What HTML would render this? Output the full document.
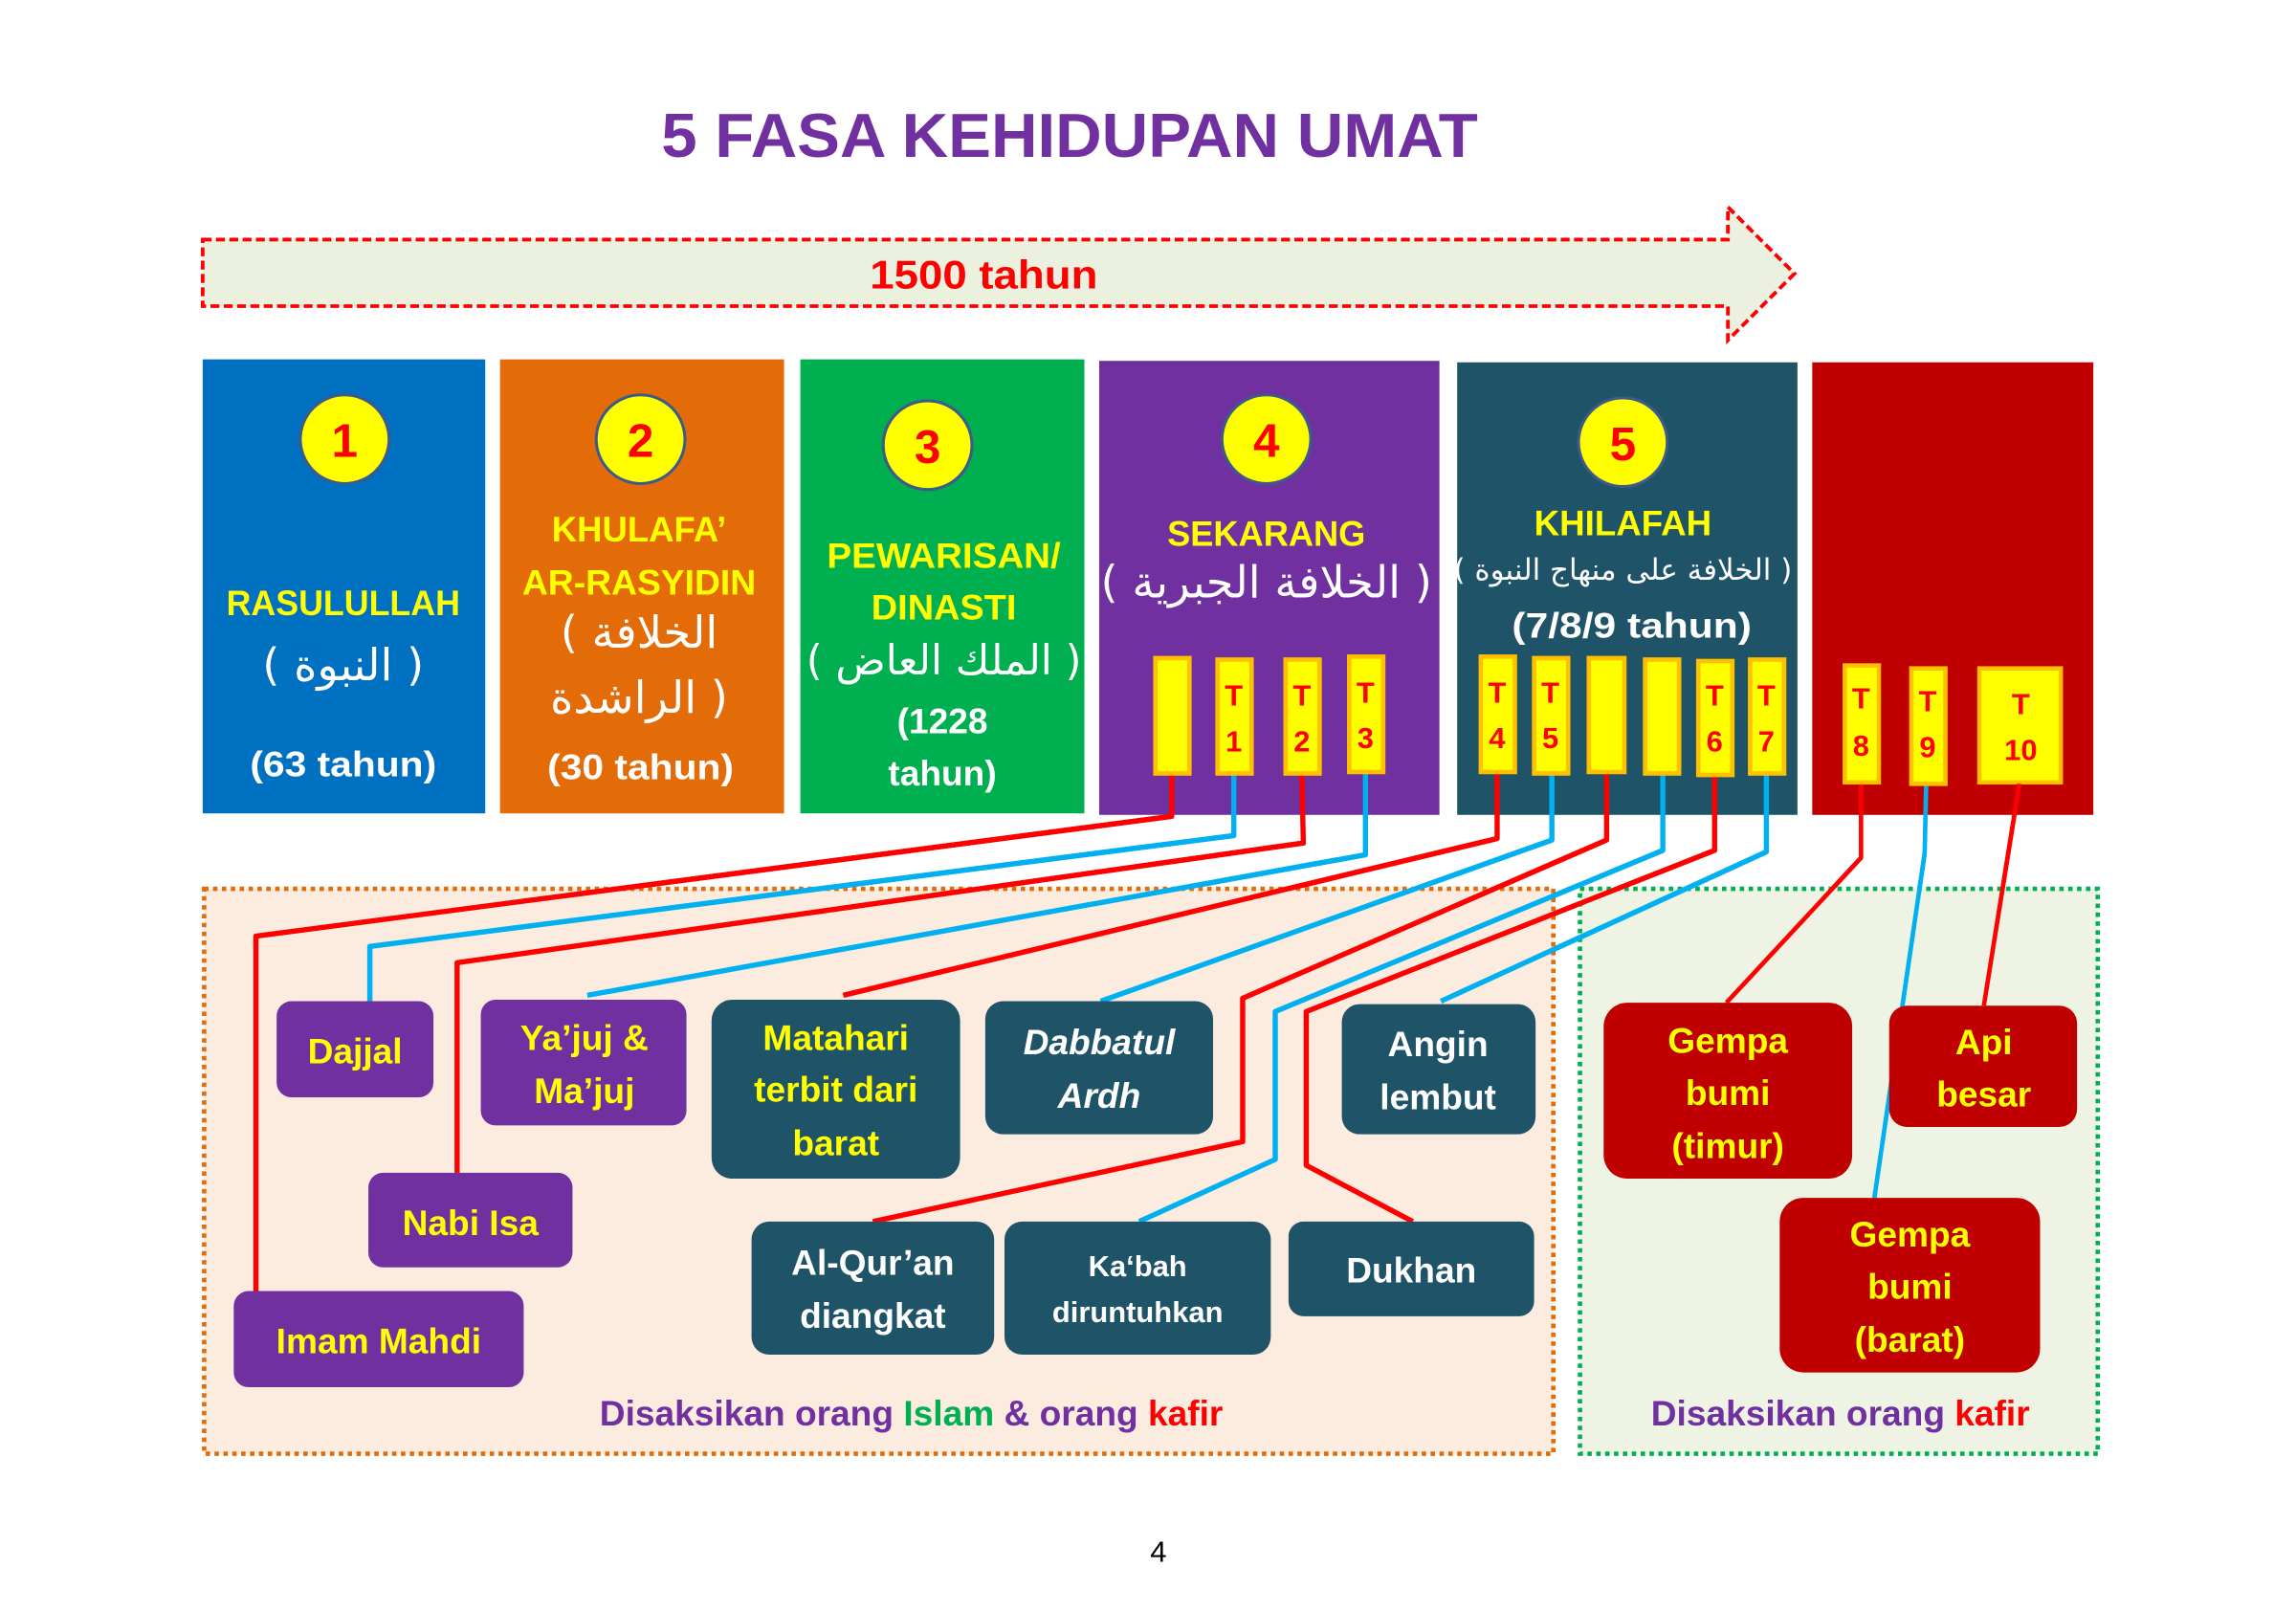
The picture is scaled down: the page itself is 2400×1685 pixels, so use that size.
<!DOCTYPE html>
<html><head><meta charset="utf-8"><style>
html,body{margin:0;padding:0;background:#fff;}
svg{display:block;}
text{font-family:"Liberation Sans","DejaVu Sans",sans-serif;font-weight:bold;}
text.ar{font-family:"DejaVu Sans",sans-serif;font-weight:normal;}
text.pn{font-weight:normal;}
</style></head><body>
<svg width="2400" height="1685" viewBox="0 0 1552 1090" preserveAspectRatio="none" xmlns="http://www.w3.org/2000/svg">
<rect width="1552" height="1090" fill="#fff"/>
<text x="723" y="106" font-size="42" fill="#7030a0" text-anchor="middle" textLength="552" lengthAdjust="spacingAndGlyphs">5 FASA KEHIDUPAN UMAT</text>
<path d="M137 162 H1168 V140 L1213 185 L1168 230 V207 H137 Z" fill="#ebf1de" stroke="#ff0000" stroke-width="2.5" stroke-dasharray="6 3"/>
<text x="665" y="195" font-size="27" fill="#ff0000" text-anchor="middle" textLength="154" lengthAdjust="spacingAndGlyphs">1500 tahun</text>
<rect x="137" y="243" width="191" height="307" fill="#0070c0"/>
<rect x="338" y="243" width="192" height="307" fill="#e36c09"/>
<rect x="541" y="243" width="192" height="307" fill="#00b050"/>
<rect x="743" y="244" width="230" height="307" fill="#7030a0"/>
<rect x="985" y="245" width="230" height="306" fill="#1f5468"/>
<rect x="1225" y="245" width="190" height="306" fill="#c00000"/>
<g stroke="#3d5a8a" stroke-width="2" fill="#ffff00">
<circle cx="233" cy="297" r="30"/><circle cx="433" cy="297" r="30"/><circle cx="627" cy="301" r="30"/><circle cx="856" cy="297" r="30"/><circle cx="1097" cy="299" r="30"/>
</g>
<g font-size="32" fill="#ff0000" text-anchor="middle">
<text x="233" y="309">1</text><text x="433" y="309">2</text><text x="627" y="313">3</text><text x="856" y="309">4</text><text x="1097" y="311">5</text>
</g>
<g font-size="24" fill="#ffff00" text-anchor="middle">
<text x="232" y="416" textLength="158" lengthAdjust="spacingAndGlyphs">RASULULLAH</text>
<text x="432" y="366" textLength="118" lengthAdjust="spacingAndGlyphs">KHULAFA’</text>
<text x="432" y="402" textLength="158" lengthAdjust="spacingAndGlyphs">AR-RASYIDIN</text>
<text x="638" y="384" textLength="158" lengthAdjust="spacingAndGlyphs">PEWARISAN/</text>
<text x="638" y="419" textLength="98" lengthAdjust="spacingAndGlyphs">DINASTI</text>
<text x="856" y="369" textLength="134" lengthAdjust="spacingAndGlyphs">SEKARANG</text>
<text x="1097" y="362" textLength="120" lengthAdjust="spacingAndGlyphs">KHILAFAH</text>
</g>
<g fill="#fff" text-anchor="middle">
<text class="ar" x="232" y="460" font-size="30">( النبوة )</text>
<text class="ar" x="432" y="438" font-size="30">( الخلافة</text>
<text class="ar" x="432" y="482" font-size="30">الراشدة )</text>
<text class="ar" x="638" y="456" font-size="28">( الملك العاض )</text>
<text class="ar" x="856" y="404" font-size="30">( الخلافة الجبرية )</text>
<text class="ar" x="1097" y="392" font-size="20">( الخلافة على منهاج النبوة )</text>
<g font-size="24">
<text x="232" y="525" textLength="126" lengthAdjust="spacingAndGlyphs">(63 tahun)</text>
<text x="433" y="527" textLength="126" lengthAdjust="spacingAndGlyphs">(30 tahun)</text>
<text x="637" y="496">(1228</text>
<text x="637" y="531">tahun)</text>
<text x="1103" y="431" textLength="162" lengthAdjust="spacingAndGlyphs">(7/8/9 tahun)</text>
</g>
</g>
<g fill="none" stroke-width="3.5" stroke-linejoin="round">
<polyline stroke="#ff0000" points="792,523 792,552 173,633 173,873"/>
<polyline stroke="#00b0f0" points="834,523 834,565 250,640 250,677"/>
<polyline stroke="#ff0000" points="880,523 881,570 309,651 309,793"/>
<polyline stroke="#00b0f0" points="923,523 923,578 397,673"/>
<polyline stroke="#ff0000" points="1012,523 1012,567 570,673"/>
<polyline stroke="#00b0f0" points="1049,523 1049,568 744,677"/>
<polyline stroke="#ff0000" points="1086,523 1086,568 840,675 840,772 590,826"/>
<polyline stroke="#00b0f0" points="1124,523 1124,575 862,684 862,784 770,826"/>
<polyline stroke="#ff0000" points="1159,523 1159,575 883,684 883,788 955,826"/>
<polyline stroke="#00b0f0" points="1194,523 1194,576 974,677"/>
<polyline stroke="#ff0000" stroke-width="3" points="1258,530 1258,580 1167,678"/>
<polyline stroke="#00b0f0" stroke-width="3" points="1302,530 1301,577 1267,810"/>
<polyline stroke="#ff0000" stroke-width="3" points="1365,530 1341,680"/>
</g>
<g fill="#ffff00" stroke="#ffc000" stroke-width="3">
<rect x="781" y="445" width="23" height="78"/>
<rect x="823" y="446" width="23" height="77"/>
<rect x="869" y="446" width="23" height="77"/>
<rect x="912" y="444" width="23" height="78"/>
<rect x="1001" y="444" width="23" height="78"/>
<rect x="1037" y="445" width="23" height="78"/>
<rect x="1074" y="445" width="24" height="77"/>
<rect x="1112" y="446" width="23" height="77"/>
<rect x="1148" y="447" width="23" height="77"/>
<rect x="1183" y="446" width="23" height="77"/>
<rect x="1247" y="450" width="23" height="79"/>
<rect x="1292" y="452" width="23" height="78"/>
<rect x="1338" y="452" width="55" height="77"/>
</g>
<g font-size="20" fill="#ff0000" text-anchor="middle">
<text x="834" y="477">T</text><text x="834" y="508">1</text>
<text x="880" y="477">T</text><text x="880" y="508">2</text>
<text x="923" y="475">T</text><text x="923" y="506">3</text>
<text x="1012" y="475">T</text><text x="1012" y="506">4</text>
<text x="1048" y="475">T</text><text x="1048" y="506">5</text>
<text x="1159" y="477">T</text><text x="1159" y="508">6</text>
<text x="1194" y="477">T</text><text x="1194" y="508">7</text>
<text x="1258" y="479">T</text><text x="1258" y="511">8</text>
<text x="1303" y="481">T</text><text x="1303" y="512">9</text>
<text x="1366" y="483">T</text><text x="1366" y="514">10</text>
</g>
<g>
<rect x="138" y="601" width="912" height="382" fill="#fbe9db" fill-opacity="0.85" stroke="#e36c09" stroke-width="3" stroke-dasharray="3 3"/>
<rect x="1068" y="601" width="350" height="382" fill="#ebf1de" fill-opacity="0.85" stroke="#00b050" stroke-width="3" stroke-dasharray="3 3"/>
</g>
<g fill="none" stroke-width="3.5" stroke-linejoin="round">
<polyline stroke="#ff0000" points="792,552 173,633 173,873"/>
<polyline stroke="#00b0f0" points="834,565 250,640 250,677"/>
<polyline stroke="#ff0000" points="881,570 309,651 309,793"/>
<polyline stroke="#00b0f0" points="923,578 397,673"/>
<polyline stroke="#ff0000" points="1012,567 570,673"/>
<polyline stroke="#00b0f0" points="1049,568 744,677"/>
<polyline stroke="#ff0000" points="1086,568 840,675 840,772 590,826"/>
<polyline stroke="#00b0f0" points="1124,575 862,684 862,784 770,826"/>
<polyline stroke="#ff0000" points="1159,575 883,684 883,788 955,826"/>
<polyline stroke="#00b0f0" points="1194,576 974,677"/>
<polyline stroke="#ff0000" stroke-width="3" points="1258,580 1167,678"/>
<polyline stroke="#00b0f0" stroke-width="3" points="1301,577 1267,810"/>
<polyline stroke="#ff0000" stroke-width="3" points="1365,530 1341,680"/>
</g>
<g>
<rect x="187" y="677" width="106" height="65" rx="10" fill="#7030a0"/>
<rect x="325" y="676" width="139" height="85" rx="10" fill="#7030a0"/>
<rect x="481" y="676" width="168" height="121" rx="14" fill="#1f5468"/>
<rect x="666" y="677" width="154" height="90" rx="12" fill="#1f5468"/>
<rect x="907" y="679" width="131" height="88" rx="12" fill="#1f5468"/>
<rect x="249" y="793" width="138" height="64" rx="10" fill="#7030a0"/>
<rect x="158" y="873" width="196" height="65" rx="10" fill="#7030a0"/>
<rect x="508" y="826" width="164" height="90" rx="12" fill="#1f5468"/>
<rect x="679" y="826" width="180" height="90" rx="12" fill="#1f5468"/>
<rect x="871" y="826" width="166" height="64" rx="10" fill="#1f5468"/>
<rect x="1084" y="678" width="168" height="119" rx="16" fill="#c00000"/>
<rect x="1277" y="680" width="127" height="82" rx="12" fill="#c00000"/>
<rect x="1203" y="810" width="176" height="118" rx="16" fill="#c00000"/>
</g>
<g font-size="24" text-anchor="middle" fill="#ffff00">
<text x="240" y="719">Dajjal</text>
<text x="395" y="710">Ya’juj &amp;</text>
<text x="395" y="746">Ma’juj</text>
<text x="565" y="710">Matahari</text>
<text x="565" y="745">terbit dari</text>
<text x="565" y="781">barat</text>
<text x="318" y="835">Nabi Isa</text>
<text x="256" y="915">Imam Mahdi</text>
<text x="1168" y="712">Gempa</text>
<text x="1168" y="747">bumi</text>
<text x="1168" y="783">(timur)</text>
<text x="1341" y="713">Api</text>
<text x="1341" y="748">besar</text>
<text x="1291" y="843">Gempa</text>
<text x="1291" y="878">bumi</text>
<text x="1291" y="914">(barat)</text>
</g>
<g font-size="24" text-anchor="middle" fill="#fff">
<text x="743" y="713" font-style="italic">Dabbatul</text>
<text x="743" y="749" font-style="italic">Ardh</text>
<text x="972" y="714">Angin</text>
<text x="972" y="750">lembut</text>
<text x="590" y="862">Al-Qur’an</text>
<text x="590" y="898">diangkat</text>
<text x="769" y="863" font-size="20">Ka‘bah</text>
<text x="769" y="894" font-size="20">diruntuhkan</text>
<text x="954" y="867">Dukhan</text>
</g>
<text x="616" y="964" font-size="24" text-anchor="middle" fill="#7030a0">Disaksikan orang <tspan fill="#00b050">Islam</tspan> &amp; orang <tspan fill="#ff0000">kafir</tspan></text>
<text x="1244" y="964" font-size="24" text-anchor="middle" fill="#7030a0">Disaksikan orang <tspan fill="#ff0000">kafir</tspan></text>
<text class="pn" x="783" y="1056" font-size="20" text-anchor="middle" fill="#000">4</text>
</svg>
</body></html>
